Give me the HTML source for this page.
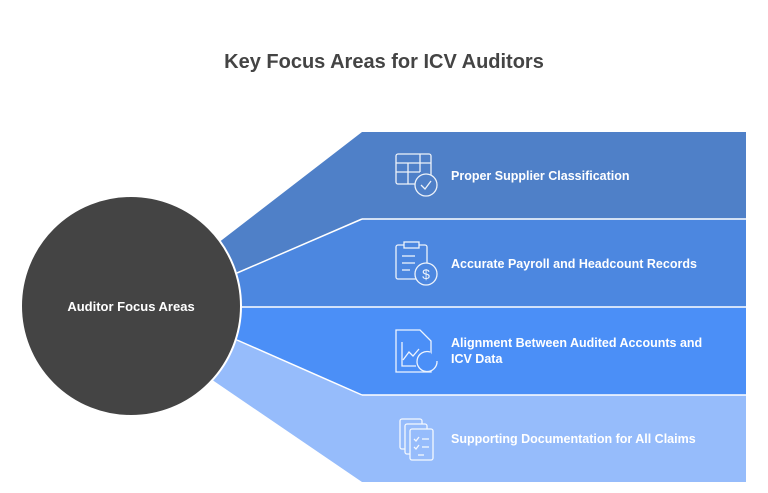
<!DOCTYPE html>
<html><head><style>
body{margin:0;background:#fff;}
svg{display:block;font-family:"Liberation Sans",sans-serif;}
</style></head><body>
<svg width="768" height="493" viewBox="0 0 768 493">
<text x="384" y="68" text-anchor="middle" font-size="20" font-weight="bold" fill="#444">Key Focus Areas for ICV Auditors</text>
<polygon points="362,132 746,132 746,219 362,219 237,273 205,253" fill="#4F80C8"/>
<polygon points="362,219 746,219 746,307 230,307 237,273" fill="#4C87E0"/>
<polygon points="230,307 746,307 746,395 362,395 237,340" fill="#4B8FF7"/>
<polygon points="362,395 746,395 746,482 362,482 205,375 237,340" fill="#96BCFB"/>
<line x1="362" y1="219" x2="237" y2="273" stroke="#fff" stroke-width="1.5"/>
<line x1="362" y1="219" x2="746" y2="219" stroke="#fff" stroke-width="1.5"/>
<line x1="230" y1="307" x2="746" y2="307" stroke="#fff" stroke-width="1.5"/>
<line x1="362" y1="395" x2="237" y2="340" stroke="#fff" stroke-width="1.5"/>
<line x1="362" y1="395" x2="746" y2="395" stroke="#fff" stroke-width="1.5"/>
<circle cx="131" cy="306" r="110" fill="#444" stroke="#fff" stroke-width="2"/>
<text x="131" y="311" text-anchor="middle" font-size="13" font-weight="bold" fill="#fff">Auditor Focus Areas</text>
<g fill="none" stroke="#fff" stroke-width="1.3" opacity="0.9">
<rect x="396" y="154" width="35" height="30" rx="2"/><line x1="396" y1="163" x2="431" y2="163"/><line x1="396" y1="172" x2="420" y2="172"/><line x1="408" y1="163" x2="408" y2="184"/><line x1="420" y1="154" x2="420" y2="172"/><circle cx="426" cy="185" r="11" fill="#4F80C8"/><polyline points="421,185 425,189 431,181"/>
<rect x="396" y="245" width="31" height="34" rx="2"/><rect x="404" y="242" width="15" height="6" fill="#4C87E0"/><line x1="402" y1="256" x2="415" y2="256"/><line x1="402" y1="263" x2="415" y2="263"/><line x1="402" y1="270" x2="410" y2="270"/><circle cx="426" cy="274" r="11" fill="#4C87E0"/><text x="426" y="279" text-anchor="middle" font-size="14" fill="#fff" stroke="none">$</text>
<path d="M396 330 H420 L431 341 V372 H396 Z"/><polyline points="402,342 402,366 416,366"/><polyline points="403,360 409,352 413,356 419,349"/><path d="M437 361 A10 10 0 1 1 430 352" fill="#4B8FF7"/>
<rect x="400" y="419" width="22" height="30" rx="2"/><rect x="405" y="424" width="22" height="30" rx="2" fill="#96BCFB"/><rect x="410" y="429" width="23" height="31" rx="2" fill="#96BCFB"/><polyline points="414,439 416,441 419,437"/><line x1="422" y1="439" x2="429" y2="439"/><polyline points="414,447 416,449 419,445"/><line x1="422" y1="447" x2="429" y2="447"/><line x1="418" y1="455" x2="424" y2="455"/>
</g>
<g font-size="12.5" font-weight="bold" fill="#fff">
<text x="451" y="180">Proper Supplier Classification</text>
<text x="451" y="268">Accurate Payroll and Headcount Records</text>
<text x="451" y="347">Alignment Between Audited Accounts and</text>
<text x="451" y="363">ICV Data</text>
<text x="451" y="443">Supporting Documentation for All Claims</text>
</g>
</svg>
</body></html>
